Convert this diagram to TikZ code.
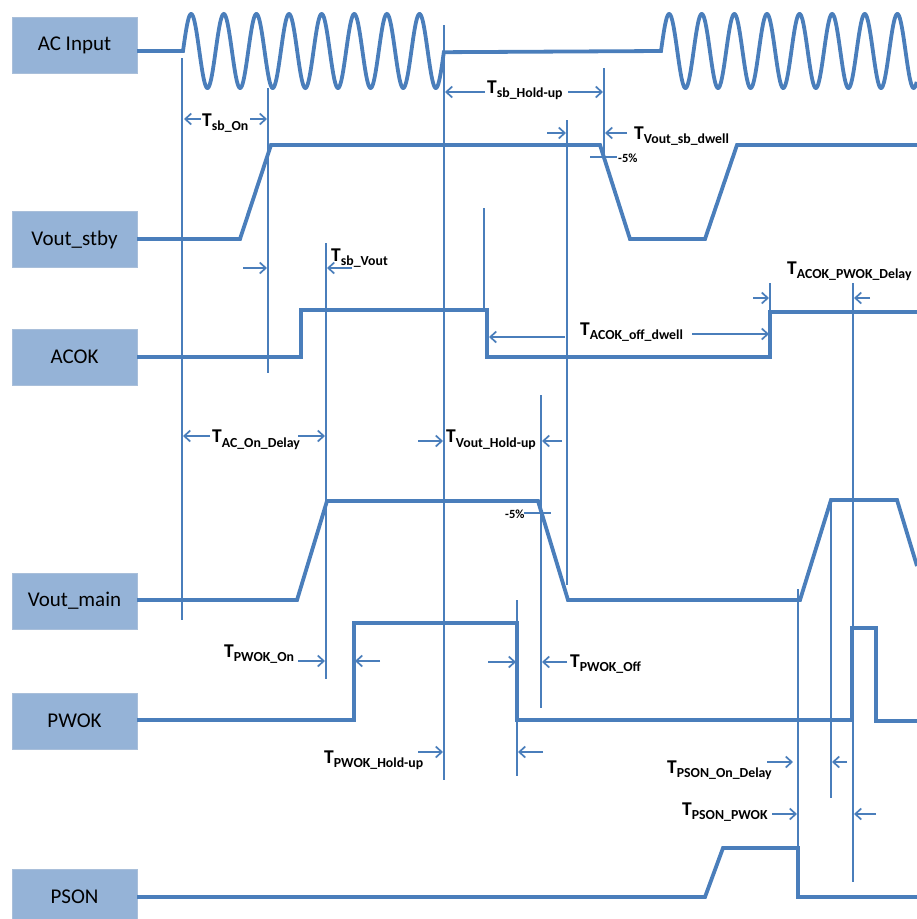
\documentclass[tikz,border=0pt]{standalone}
\usepackage{fontspec}
\setmainfont{Carlito}
\usetikzlibrary{arrows.meta}
\definecolor{sigblue}{HTML}{4A7EBB}
\definecolor{boxfill}{HTML}{95B3D7}
\definecolor{boxline}{HTML}{A9BFDA}
\newcommand\Tlab[1]{{\fontsize{19.5}{21}\selectfont\bfseries T}\raisebox{-4.5pt}{\fontsize{13.8}{15}\selectfont\bfseries #1}}
\begin{document}
\begin{tikzpicture}[x=1pt,y=-1pt,
  sig/.style={draw=sigblue, line width=3.8pt, line join=miter},
  dimline/.style={draw=sigblue, line width=1.7pt},
  dimarrow/.style={dimline, -{Straight Barb[length=6pt,width=11pt]}},
  sigbox/.style={fill=boxfill, draw=boxline, line width=0.8pt, minimum width=125pt, minimum height=56pt, inner sep=0pt, font=\fontsize{21}{23}\selectfont, text=black},
  tlabel/.style={anchor=base west, inner sep=0pt, text=black},
  pct/.style={anchor=base west, inner sep=0pt, text=black, font=\fontsize{12.5}{14}\selectfont\bfseries}]
\useasboundingbox (0,0) rectangle (917,919);

% signal name boxes
\node[sigbox] (bac)   at (74.5,45)    {AC Input};
\node[sigbox] (bstby) at (74.5,239.5) {Vout\_stby};
\node[sigbox] (bacok) at (74.5,357)   {ACOK};
\node[sigbox] (bmain) at (74.5,601)   {Vout\_main};
\node[sigbox] (bpwok) at (74.5,721)   {PWOK};
\node[sigbox] (bpson) at (74.5,897)   {PSON};

% signals
\draw[sig] (137,51) -- (183,51)
  -- plot[domain=0:8, samples=500] ({183+\x*32.625},{51-37*sin(\x*360)})
  -- (661,51)
  -- plot[domain=0:7.85, samples=500] ({661+\x*32.6},{51-37*sin(\x*360)});
\draw[sig] (137,239) -- (240,239) -- (271,145) -- (600,145) -- (630,239) -- (705,239) -- (737,145) -- (917,145);
\draw[sig] (137,357) -- (301,357) -- (301,310) -- (487,310) -- (487,357) -- (770,357) -- (770,312) -- (917,312);
\draw[sig] (137,600) -- (297,600) -- (327,501) -- (538,501) -- (568,600) -- (800,600) -- (831,500) -- (897,500) -- (917,566);
\draw[sig] (137,720) -- (354,720) -- (354,623) -- (517,623) -- (517,720) -- (852,720) -- (852,628) -- (876,628) -- (876,721) -- (917,721);
\draw[sig] (137,897) -- (705,897) -- (723,848) -- (798,848) -- (798,897) -- (917,897);

% vertical reference lines
\draw[dimline] (182,58) -- (182,620);
\draw[dimline] (268,88) -- (268,373);
\draw[dimline] (444,25) -- (444,780);
\draw[dimline] (604,68) -- (604,157);
\draw[dimline] (567,120) -- (567,585);
\draw[dimline] (484,208) -- (484,310);
\draw[dimline] (326,243) -- (326,679);
\draw[dimline] (541,395) -- (541,708);
\draw[dimline] (517,600) -- (517,776);
\draw[dimline] (770,283) -- (770,312);
\draw[dimline] (853,283) -- (853,882);
\draw[dimline] (798,589) -- (798,848);
\draw[dimline] (831,500) -- (831,798);

% -5% ticks
\draw[dimline] (590,157) -- (617,157);
\draw[dimline] (524,513) -- (551,513);
\node[pct] (p1) at (618,162.5) {-5\%};
\node[pct] (p2) at (505,518) {-5\%};

% dimension arrows
\draw[dimarrow] (201,119) -- (184,119);
\draw[dimarrow] (250,119) -- (267,119);
\draw[dimarrow] (485,92) -- (445,92);
\draw[dimarrow] (568,92) -- (603,92);
\draw[dimarrow] (547,133) -- (566,133);
\draw[dimarrow] (627,133) -- (605,133);
\draw[dimarrow] (243,268) -- (267,268);
\draw[dimarrow] (352,268) -- (327,268);
\draw[dimarrow] (565,337) -- (489,337);
\draw[dimarrow] (692,334) -- (769,334);
\draw[dimarrow] (753,298) -- (769,298);
\draw[dimarrow] (870,298) -- (854,298);
\draw[dimarrow] (210,436) -- (183,436);
\draw[dimarrow] (298,436) -- (325,436);
\draw[dimarrow] (418,441) -- (443,441);
\draw[dimarrow] (562,441) -- (542,441);
\draw[dimarrow] (298,661) -- (325,661);
\draw[dimarrow] (380,661) -- (355,661);
\draw[dimarrow] (488,662) -- (516,662);
\draw[dimarrow] (567,662) -- (542,662);
\draw[dimarrow] (418,752) -- (443,752);
\draw[dimarrow] (543,752) -- (518,752);
\draw[dimarrow] (767,762) -- (793,762);
\draw[dimarrow] (847,762) -- (832,762);
\draw[dimarrow] (772,814) -- (797,814);
\draw[dimarrow] (876,814) -- (854,814);

% timing labels
\node[tlabel] (lsbon)    at (202,126)   {\Tlab{sb\_On}};
\node[tlabel] (lsbhold)  at (487,93)    {\Tlab{sb\_Hold-up}};
\node[tlabel] (ldwell)   at (634,139)   {\Tlab{Vout\_sb\_dwell}};
\node[tlabel] (lsbvout)  at (331,261)   {\Tlab{sb\_Vout}};
\node[tlabel] (lacokoff) at (580,335)   {\Tlab{ACOK\_off\_dwell}};
\node[tlabel] (lacokpw)  at (787,274)   {\Tlab{ACOK\_PWOK\_Delay}};
\node[tlabel] (lacon)    at (212,442.5) {\Tlab{AC\_On\_Delay}};
\node[tlabel] (lvhold)   at (446,442.5) {\Tlab{Vout\_Hold-up}};
\node[tlabel] (lpwon)    at (224,657)   {\Tlab{PWOK\_On}};
\node[tlabel] (lpwoff)   at (570,667)   {\Tlab{PWOK\_Off}};
\node[tlabel] (lpwhold)  at (324,763)   {\Tlab{PWOK\_Hold-up}};
\node[tlabel] (lpsond)   at (667,773)   {\Tlab{PSON\_On\_Delay}};
\node[tlabel] (lpsonpw)  at (682,815)   {\Tlab{PSON\_PWOK}};
\end{tikzpicture}
\end{document}
